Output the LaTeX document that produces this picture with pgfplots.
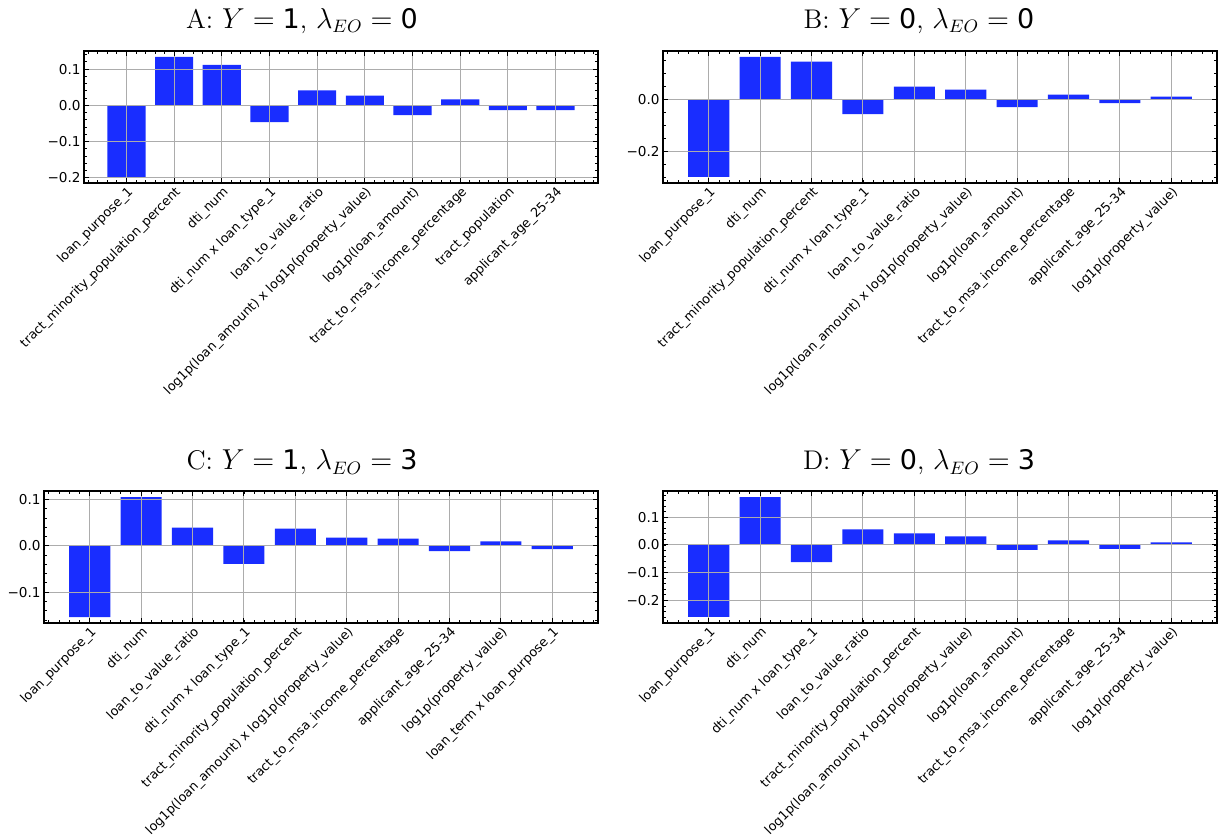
\documentclass[border=0pt]{standalone}
\usepackage{fontspec}
\setsansfont{DejaVu Sans}
\usepackage{pgfplots}
\pgfplotsset{compat=1.18}
\definecolor{barblue}{RGB}{25,45,255}
\pgfplotsset{
  fi/.style={
    scale only axis, anchor=south west,
    axis on top,
    ybar, bar width=0.8,
    xmin=-0.89, xmax=9.89,
    xtick={0,...,9},
    minor xtick={-0.8,-0.6,...,9.8},
    tick align=inside, xtick pos=both, ytick pos=both,
    xmajorgrids, ymajorgrids,
    major grid style={gray!65, line width=0.5pt},
    major tick style={black, line width=0.5pt},
    minor tick style={black, line width=0.4pt},
    major tick length=2.6pt, minor tick length=1.4pt,
    axis line style={line width=0.8pt},
    yticklabel style={font=\sffamily\fontsize{6.8}{8}\selectfont, inner sep=1.5pt},
    xticklabel style={font=\sffamily\fontsize{6.4}{8}\selectfont, rotate=45, anchor=north east, inner sep=0.8pt},
  }}
\newcommand{\ttl}[3]{#1: $Y = \mbox{\sffamily #2}$, $\lambda_{EO} = \mbox{\sffamily #3}$}
\begin{document}
\begin{tikzpicture}
\useasboundingbox (0,0) rectangle (610.5pt,420pt);
% Panel A
\begin{axis}[fi, at={(42pt,328.5pt)}, width=257pt, height=66pt,
  ymin=-0.2146, ymax=0.150,
  ytick={-0.2,-0.1,0,0.1}, yticklabels={−0.2,−0.1,0.0,0.1},
  minor ytick={-0.2,-0.18,...,0.15},
  xticklabels={loan\_purpose\_1,tract\_minority\_population\_percent,dti\_num,dti\_num x loan\_type\_1,loan\_to\_value\_ratio,log1p(loan\_amount) x log1p(property\_value),log1p(loan\_amount),tract\_to\_msa\_income\_percentage,tract\_population,applicant\_age\_25-34}]
\addplot[fill=barblue, draw=none] coordinates {(0,-0.198) (1,0.1336) (2,0.1118) (3,-0.0464) (4,0.041) (5,0.027) (6,-0.027) (7,0.0164) (8,-0.0136) (9,-0.0136)};
\end{axis}
% Panel B
\begin{axis}[fi, at={(331.5pt,328.5pt)}, width=277pt, height=66pt,
  ymin=-0.320, ymax=0.186,
  ytick={-0.2,0}, yticklabels={−0.2,0.0},
  minor ytick={-0.3,-0.25,...,0.18},
  xticklabels={loan\_purpose\_1,dti\_num,tract\_minority\_population\_percent,dti\_num x loan\_type\_1,loan\_to\_value\_ratio,log1p(loan\_amount) x log1p(property\_value),log1p(loan\_amount),tract\_to\_msa\_income\_percentage,applicant\_age\_25-34,log1p(property\_value)}]
\addplot[fill=barblue, draw=none] coordinates {(0,-0.297) (1,0.163) (2,0.145) (3,-0.056) (4,0.0497) (5,0.038) (6,-0.029) (7,0.019) (8,-0.014) (9,0.0115)};
\end{axis}
% Panel C
\begin{axis}[fi, at={(22pt,108.5pt)}, width=277pt, height=66pt,
  ymin=-0.1665, ymax=0.118,
  ytick={-0.1,0,0.1}, yticklabels={−0.1,0.0,0.1},
  minor ytick={-0.16,-0.14,...,0.118},
  xticklabels={loan\_purpose\_1,dti\_num,loan\_to\_value\_ratio,dti\_num x loan\_type\_1,tract\_minority\_population\_percent,log1p(loan\_amount) x log1p(property\_value),tract\_to\_msa\_income\_percentage,applicant\_age\_25-34,log1p(property\_value),loan\_term x loan\_purpose\_1}]
\addplot[fill=barblue, draw=none] coordinates {(0,-0.154) (1,0.105) (2,0.039) (3,-0.039) (4,0.0368) (5,0.0177) (6,0.0155) (7,-0.0115) (8,0.0092) (9,-0.0072)};
\end{axis}
% Panel D
\begin{axis}[fi, at={(331.5pt,108.5pt)}, width=277pt, height=66pt,
  ymin=-0.2817, ymax=0.1947,
  ytick={-0.2,-0.1,0,0.1}, yticklabels={−0.2,−0.1,0.0,0.1},
  minor ytick={-0.28,-0.26,...,0.19},
  xticklabels={loan\_purpose\_1,dti\_num,dti\_num x loan\_type\_1,loan\_to\_value\_ratio,tract\_minority\_population\_percent,log1p(loan\_amount) x log1p(property\_value),log1p(loan\_amount),tract\_to\_msa\_income\_percentage,applicant\_age\_25-34,log1p(property\_value)}]
\addplot[fill=barblue, draw=none] coordinates {(0,-0.26) (1,0.173) (2,-0.0616) (3,0.056) (4,0.0416) (5,0.031) (6,-0.0178) (7,0.0167) (8,-0.014) (9,0.0096)};
\end{axis}
\node[anchor=base, font=\fontsize{13.5}{16}\selectfont] at (151pt,405.9pt) {\ttl{A}{1}{0}};
\node[anchor=base, font=\fontsize{13.5}{16}\selectfont] at (459.5pt,405.9pt) {\ttl{B}{0}{0}};
\node[anchor=base, font=\fontsize{13.5}{16}\selectfont] at (151pt,185pt) {\ttl{C}{1}{3}};
\node[anchor=base, font=\fontsize{13.5}{16}\selectfont] at (459.5pt,185pt) {\ttl{D}{0}{3}};
\end{tikzpicture}
\end{document}
